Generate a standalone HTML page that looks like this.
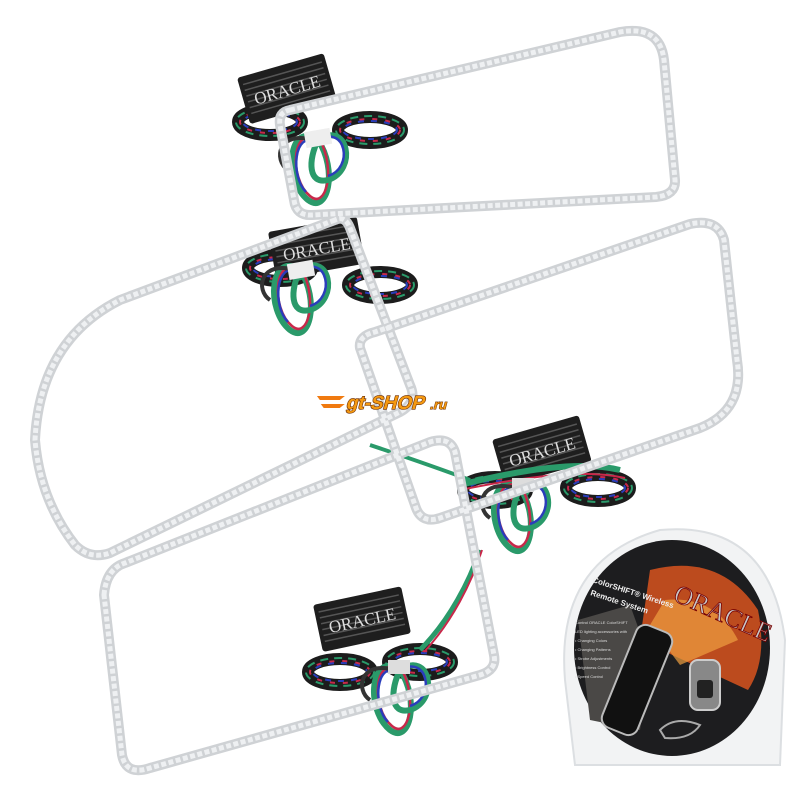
<!DOCTYPE html>
<html><head><meta charset="utf-8"><style>
html,body{margin:0;padding:0;background:#fff;width:800px;height:800px;overflow:hidden}
</style></head><body>
<svg width="800" height="800" viewBox="0 0 800 800" xmlns="http://www.w3.org/2000/svg">
<defs>
<g id="coil">
<ellipse cx="0" cy="0" rx="32" ry="13" fill="none" stroke="#1c1c1c" stroke-width="12"/>
<ellipse cx="0" cy="0" rx="34" ry="14" fill="none" stroke="#2a9a6a" stroke-width="2" stroke-dasharray="8 6"/>
<ellipse cx="0" cy="0" rx="30" ry="11" fill="none" stroke="#c8284a" stroke-width="2" stroke-dasharray="5 8"/>
<ellipse cx="0" cy="0" rx="27" ry="9" fill="none" stroke="#2a3dbb" stroke-width="2" stroke-dasharray="6 7"/>
</g>
<g id="loop">
<path d="M0,0 C-30,-20 -35,40 -10,60 C10,75 20,30 0,0 Z" fill="none" stroke="#2a9a6a" stroke-width="6"/>
<path d="M2,0 C-26,-18 -30,38 -8,56 C8,70 18,30 2,0" fill="none" stroke="#c8284a" stroke-width="2.5"/>
<path d="M-2,2 C-24,-10 -28,36 -12,52" fill="none" stroke="#2a3dbb" stroke-width="2.5"/>
<path d="M0,0 C30,-20 40,30 10,40 C-10,45 -10,20 0,0" fill="none" stroke="#2a9a6a" stroke-width="6"/>
<path d="M0,0 C28,-16 36,28 10,36" fill="none" stroke="#2a3dbb" stroke-width="2.5"/>
<path d="M-5,0 C-40,-10 -45,20 -30,30" fill="none" stroke="#333" stroke-width="4"/>
</g>
<g id="box">
<rect x="0" y="0" width="90" height="48" rx="3" fill="#1e1e1e"/>
<g stroke="#555" stroke-width="1.5">
<line x1="4" y1="8" x2="86" y2="8"/><line x1="4" y1="14" x2="86" y2="14"/><line x1="4" y1="20" x2="86" y2="20"/><line x1="4" y1="26" x2="86" y2="26"/><line x1="4" y1="32" x2="86" y2="32"/><line x1="4" y1="38" x2="86" y2="38"/>
</g>
<text x="45" y="31" font-family="Liberation Serif, serif" font-size="17" fill="#ddd" text-anchor="middle">ORACLE</text>
</g>
</defs>

<g>
<use href="#coil" x="270" y="122"/><use href="#coil" x="370" y="130"/>
<use href="#coil" x="280" y="268"/><use href="#coil" x="380" y="285"/>
<use href="#coil" x="495" y="490"/><use href="#coil" x="598" y="488"/>
<use href="#coil" x="340" y="672"/><use href="#coil" x="420" y="662"/>
</g>
<use href="#box" transform="translate(237,78) rotate(-16)"/>
<use href="#box" transform="translate(268,232) rotate(-10)"/>
<use href="#box" transform="translate(492,440) rotate(-16)"/>
<use href="#box" transform="translate(313,605) rotate(-12)"/>
<use href="#loop" x="318" y="140"/>
<use href="#loop" x="300" y="270"/>
<use href="#loop" x="520" y="488"/>
<use href="#loop" x="400" y="670"/>
<path d="M460,485 C520,470 580,460 620,470" stroke="#2a9a6a" stroke-width="6" fill="none"/>
<path d="M460,490 C520,478 580,468 625,478" stroke="#c8284a" stroke-width="2" fill="none"/>
<path d="M480,550 C470,580 450,620 420,650" stroke="#2a9a6a" stroke-width="5" fill="none"/>
<path d="M482,550 C472,582 452,622 424,652" stroke="#c8284a" stroke-width="2" fill="none"/>
<path d="M370,445 C400,455 430,465 470,480" stroke="#2a9a6a" stroke-width="4" fill="none"/>
<rect x="305" y="130" width="26" height="16" fill="#eee" transform="rotate(-10 318 138)"/>
<rect x="288" y="262" width="26" height="16" fill="#eee" transform="rotate(-10 300 270)"/>
<rect x="512" y="478" width="22" height="14" fill="#ddd"/>
<rect x="388" y="660" width="22" height="14" fill="#ddd"/>

<g fill="none" stroke-linejoin="round">
<g stroke="#cfd2d5" stroke-width="10">
<path d="M290,110 L620,32 Q660,25 664,60 L675,180 Q676,195 656,197 L312,215 Q296,216 294,200 L280,125 Q278,112 290,110 Z"/>
<path d="M335,220 L120,300 Q40,340 35,440 Q40,500 75,545 Q90,560 110,553 L400,412 Q418,402 410,385 L350,228 Q345,215 335,220 Z"/>
<path d="M360,348 Q358,336 375,332 L690,224 Q718,218 724,240 L737,360 Q745,410 700,428 L440,518 Q422,524 416,508 Z"/>
<path d="M104,595 Q106,569 125,563 L430,442 Q450,436 455,452 L494,655 Q497,670 480,675 L150,768 Q126,776 122,755 Z"/>
</g>
<g stroke="#eef0f2" stroke-width="5" stroke-dasharray="5 2.5">
<path d="M290,110 L620,32 Q660,25 664,60 L675,180 Q676,195 656,197 L312,215 Q296,216 294,200 L280,125 Q278,112 290,110 Z"/>
<path d="M335,220 L120,300 Q40,340 35,440 Q40,500 75,545 Q90,560 110,553 L400,412 Q418,402 410,385 L350,228 Q345,215 335,220 Z"/>
<path d="M360,348 Q358,336 375,332 L690,224 Q718,218 724,240 L737,360 Q745,410 700,428 L440,518 Q422,524 416,508 Z"/>
<path d="M104,595 Q106,569 125,563 L430,442 Q450,436 455,452 L494,655 Q497,670 480,675 L150,768 Q126,776 122,755 Z"/>
</g>
</g>

<g transform="translate(318,392) skewX(-15)">
<path d="M0,4 L28,4 L24,8 L4,8 Z M6,12 L30,12 L26,16 L10,16 Z" fill="#f07a10"/>
<text x="32" y="17" font-family="Liberation Sans, sans-serif" font-weight="bold" font-size="19" fill="#f59a12" stroke="#6a2a00" stroke-width="1.2" paint-order="stroke">gt-SHOP</text>
<text x="116" y="17" font-family="Liberation Sans, sans-serif" font-weight="bold" font-size="13" fill="#f59a12" stroke="#6a2a00" stroke-width="1" paint-order="stroke">.ru</text>
</g>

<path d="M565,680 Q555,560 660,530 Q770,520 785,640 L780,765 L575,765 Z" fill="#f2f3f4" stroke="#dcdfe2" stroke-width="2"/>
<ellipse cx="672" cy="648" rx="98" ry="108" fill="#1d1d1f"/>
<path d="M650,570 Q720,552 758,610 Q768,660 748,690 L640,640 Z" fill="#d8531f" opacity="0.85"/>
<path d="M665,600 Q715,595 738,640 L680,665 L650,625 Z" fill="#f0a040" opacity="0.7"/>
<polygon points="578,620 630,605 650,660 640,730 590,720" fill="#4a4846"/>
<text x="672" y="600" font-family="Liberation Serif, serif" font-size="26" fill="#c7c7c7" stroke="#700" stroke-width="0.8" transform="rotate(24 672 600)">ORACLE</text>
<text x="592" y="582" font-family="Liberation Sans, sans-serif" font-size="8" font-weight="bold" fill="#eee" transform="rotate(18 592 582)">ColorSHIFT® Wireless</text>
<text x="590" y="595" font-family="Liberation Sans, sans-serif" font-size="8" font-weight="bold" fill="#eee" transform="rotate(18 590 595)">Remote System</text>
<g font-family="Liberation Sans, sans-serif" font-size="4" fill="#ddd">
<text x="575" y="624">Control ORACLE ColorSHIFT</text>
<text x="575" y="633">LED lighting accessories with</text>
<text x="575" y="642">• Changing Colors</text>
<text x="575" y="651">• Changing Patterns</text>
<text x="575" y="660">• Strobe Adjustments</text>
<text x="575" y="669">• Brightness Control</text>
<text x="575" y="678">• Speed Control</text>
</g>
<rect x="618" y="625" width="38" height="110" rx="10" fill="#111" stroke="#bbb" stroke-width="2" transform="rotate(22 637 680)"/>
<rect x="690" y="660" width="30" height="50" rx="8" fill="#888" stroke="#ccc" stroke-width="2"/>
<rect x="697" y="680" width="16" height="18" rx="3" fill="#222"/>
<path d="M660,730 Q675,715 700,725 Q690,740 665,738 Z" fill="none" stroke="#aaa" stroke-width="2"/>
</svg>
</body></html>
